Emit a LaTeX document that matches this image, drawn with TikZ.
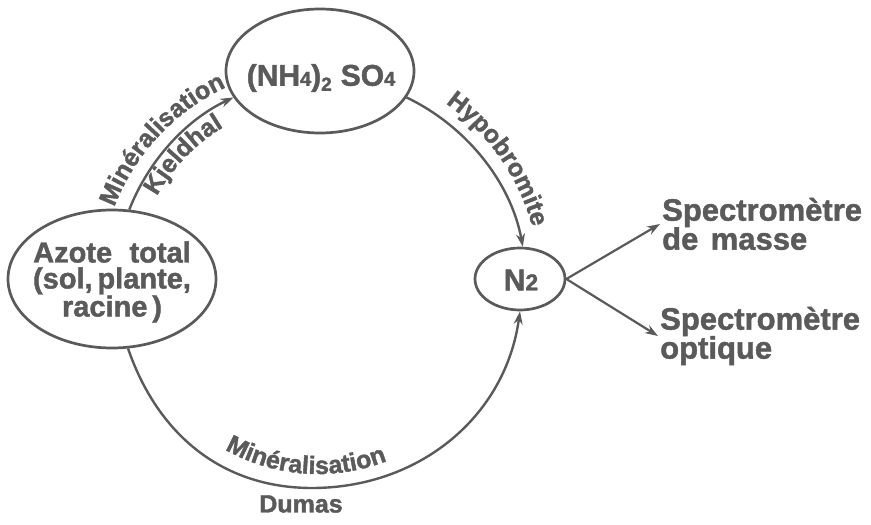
\documentclass[tikz,border=0pt]{standalone}
\usepackage{fontspec}
\setmainfont{Liberation Sans}[BoldFeatures={FakeBold=1.5}]
\usetikzlibrary{shapes.geometric,arrows.meta,decorations.text}
\definecolor{ink}{RGB}{90,90,90}
\newcommand{\lblfont}{\fontsize{25}{25}\selectfont\bfseries\color{ink}}
\begin{document}
\begin{tikzpicture}[x=1pt,y=1pt,
  ell/.style={draw=ink, line width=2.7pt, ellipse, inner sep=0pt},
  txt/.style={text=ink, font=\fontsize{29}{26}\selectfont\bfseries, align=center, inner sep=0pt},
  spec/.style={text=ink, font=\fontsize{31}{29}\selectfont\bfseries, align=left, inner xsep=2pt, inner ysep=0pt, anchor=west},
  conn/.style={draw=ink, line width=2.4pt, -{Stealth[length=13pt,width=9pt]}},
  straight/.style={draw=ink, line width=2.2pt, -{Stealth[length=13pt,width=9pt]}},
  lbl/.style={text=ink, font=\fontsize{25}{25}\selectfont\bfseries, inner sep=0pt}
]
\useasboundingbox (0,0) rectangle (871,525);

% nodes
\node[ell, minimum width=208pt, minimum height=138pt] (azote) at (112,246) {};
\node[txt] (azotetxt) at (112,243) {Azote\hspace{0.6em}total\\(sol,\,plante,\\racine\,)};
\node[ell, minimum width=188pt, minimum height=124pt] (sulf) at (320,454) {};
\node[txt, font=\fontsize{30}{30}\selectfont\bfseries] (sulftxt) at (321,447)
  {(NH{\fontsize{20}{20}\selectfont 4})\raisebox{-5pt}{\fontsize{19}{19}\selectfont 2}\hspace{0.3em}SO{\fontsize{20}{20}\selectfont 4}};
\node[ell, minimum width=90pt, minimum height=62pt] (ntwo) at (520,246) {};
\node[txt, font=\fontsize{30}{30}\selectfont\bfseries] (ntwotxt) at (521,245) {N{\fontsize{23}{23}\selectfont 2}};
\node[spec] (masse) at (660,301) {Spectromètre\\de\hspace{0.4em}masse};
\node[spec] (optique) at (658,189) {Spectromètre\\optique};

% connectors
\draw[conn] (azote.76) to[out=68.6,in=205.2,looseness=0.88] (sulf.197);
\draw[conn] (sulf.343) to[out=-25.6,in=100.5,looseness=0.89] (ntwo.85);
\coordinate (bot) at (312,37);
\draw[conn] (azote.283) to[out=-71,in=180] (bot) to[out=0,in=262] (ntwo.south);
\draw[straight] (ntwo.east) -- (masse.west);
\draw[straight] (ntwo.east) -- (optique.west);

% curved labels
\coordinate (C) at (318,240);
\path[decorate, decoration={text along path, text align=center,
  text={|\lblfont|Minéralisation}}]
  (C) ++(180:218pt) arc[start angle=180, end angle=94, radius=218pt];
\path[decorate, decoration={text along path, text align=center,
  text={|\lblfont|Kjeldhal}}]
  (C) ++(176:184pt) arc[start angle=176, end angle=96, radius=184pt];
\path[decorate, decoration={text along path, text align=center,
  text={|\lblfont|Hypobromite}}]
  (C) ++(75:222pt) arc[start angle=75, end angle=-5, radius=222pt];
\path[decorate, decoration={text along path, text align=center,
  text={|\lblfont|Minéralisation}}]
  (C) ++(-150:189pt) arc[start angle=-150, end angle=-38, radius=189pt];
\node[lbl] (dumas) at (301,21) {Dumas};
\end{tikzpicture}
\end{document}
